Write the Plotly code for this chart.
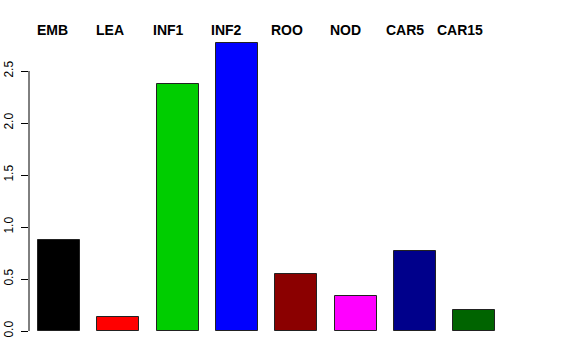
import plotly.graph_objects as go

categories = ["EMB", "LEA", "INF1", "INF2", "ROO", "NOD", "CAR5", "CAR15"]
values = [0.875, 0.135, 2.375, 2.77, 0.548, 0.337, 0.77, 0.2]
colors = ["#000000", "#FF0000", "#00CD00", "#0000FF", "#8B0000", "#FF00FF", "#00008B", "#006400"]
tick_vals = [0.0, 0.5, 1.0, 1.5, 2.0, 2.5]
label_xshift = [-7, -8.5, -9, -10, -9, -10.5, -9.5, -14]

idx = list(range(len(categories)))

fig = go.Figure()
fig.add_trace(go.Bar(
    x=idx, y=values, width=0.708,
    marker=dict(color=colors, line=dict(color="#222222", width=1)),
    hoverinfo="skip", showlegend=False,
))

for i, (c, dx) in enumerate(zip(categories, label_xshift)):
    fig.add_annotation(
        x=i, xref="x", y=1, yref="paper", yanchor="middle", yshift=10, xshift=dx,
        text=f"<b>{c}</b>", showarrow=False,
        font=dict(family="Liberation Sans, Arial", size=14, color="black"),
    )

fig.add_shape(type="line", xref="paper", yref="y", x0=0, x1=0, y0=0, y1=2.5,
              line=dict(color="black", width=1))

t = 40
fig.update_layout(
    width=576, height=360,
    margin=dict(l=29, r=29, t=t, b=29, pad=0, autoexpand=False),
    plot_bgcolor="white", paper_bgcolor="white",
    bargap=0,
    xaxis=dict(range=[-0.506, 8.229], visible=False, showgrid=False, zeroline=False),
    yaxis=dict(range=[0, (331 - t) / 104], tickvals=tick_vals, tickformat=".1f",
               ticks="outside", ticklen=7, tickcolor="black", tickwidth=1,
               tickangle=-90, showgrid=False, zeroline=False, showline=False,
               automargin=False, ticklabelstandoff=3,
               tickfont=dict(family="Liberation Sans, Arial", size=12, color="black")),
    font=dict(family="Liberation Sans, Arial"),
)

fig.write_html("out.html")
